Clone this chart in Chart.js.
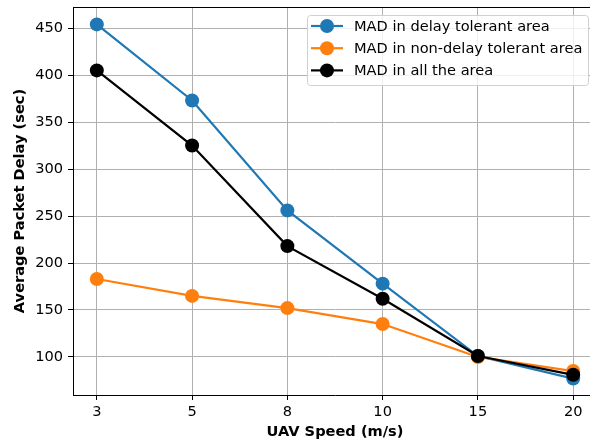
<!DOCTYPE html>
<html>
<head>
<meta charset="utf-8">
<script src="https://cdn.jsdelivr.net/npm/chart.js@4.4.0/dist/chart.umd.min.js"></script>
<style>
  html, body { margin: 0; padding: 0; background: #fff; overflow: hidden; }
  canvas { display: block; }
</style>
</head>
<body>
<!-- wider than the window: the original plot runs past its right edge -->
<canvas id="chart" width="604" height="439"></canvas>
<script>
// values
const speeds = ['3', '5', '8', '10', '15', '20'];
const delayTolerant = [454, 373, 256, 178, 101, 77];
const nonDelayTolerant = [183, 165, 152, 135, 100, 85];
const allArea = [405, 325, 218, 162, 101, 81];
const yTicks = [100, 150, 200, 250, 300, 350, 400, 450];

const FONT = 'DejaVu Sans';
const FS = 14.6;

function pts(arr) {
  return arr.map((v, i) => ({ x: i, y: v }));
}

function series(label, data, color, order) {
  return {
    label: label,
    data: pts(data),
    borderColor: color,
    backgroundColor: color,
    borderWidth: 2.2,
    pointRadius: 7,
    pointHoverRadius: 7,
    pointBorderWidth: 0,
    pointBackgroundColor: color,
    tension: 0,
    order: order
  };
}

// axis titles, top spine and legend drawn by hand
const extras = {
  id: 'extras',
  afterDraw(chart) {
    const ctx = chart.ctx;
    const a = chart.chartArea;
    ctx.save();

    ctx.strokeStyle = '#000';
    ctx.lineWidth = 1;
    ctx.beginPath();
    ctx.moveTo(a.left, a.top + 0.5);
    ctx.lineTo(a.right, a.top + 0.5);
    ctx.stroke();

    ctx.fillStyle = '#000';
    ctx.font = 'bold ' + FS + 'px ' + FONT;
    ctx.textAlign = 'center';
    ctx.textBaseline = 'middle';
    ctx.fillText('UAV Speed (m/s)', (a.left + a.right) / 2, 432);
    ctx.save();
    ctx.translate(20.5, (a.top + a.bottom) / 2);
    ctx.rotate(-Math.PI / 2);
    ctx.fillText('Average Packet Delay (sec)', 0, 0);
    ctx.restore();

    // legend
    const bx = 307, by = 15, bw = 281, bh = 70;
    ctx.fillStyle = 'rgba(255,255,255,0.8)';
    ctx.strokeStyle = '#d0d0d0';
    ctx.lineWidth = 1;
    ctx.beginPath();
    ctx.roundRect(bx + 0.5, by + 0.5, bw, bh, 3);
    ctx.fill();
    ctx.stroke();

    const order = [0, 1, 2];
    ctx.font = FS + 'px ' + FONT;
    ctx.textAlign = 'left';
    ctx.textBaseline = 'middle';
    order.forEach((di, row) => {
      const ds = chart.data.datasets[di];
      const y = 26 + row * 22.2;
      ctx.strokeStyle = ds.borderColor;
      ctx.lineWidth = 2.2;
      ctx.beginPath();
      ctx.moveTo(311, y);
      ctx.lineTo(343, y);
      ctx.stroke();
      ctx.fillStyle = ds.borderColor;
      ctx.beginPath();
      ctx.arc(327, y, 7, 0, Math.PI * 2);
      ctx.fill();
      ctx.fillStyle = '#000';
      ctx.fillText(ds.label, 354, y + 1);
    });

    ctx.restore();
  }
};

new Chart(document.getElementById('chart'), {
  type: 'line',
  data: {
    datasets: [
      series('MAD in delay tolerant area', delayTolerant, '#1f77b4', 3),
      series('MAD in non-delay tolerant area', nonDelayTolerant, '#ff7f0e', 2),
      series('MAD in all the area', allArea, '#000000', 1)
    ]
  },
  options: {
    responsive: false,
    animation: false,
    events: [],
    layout: { padding: { top: 6, right: 3, left: 0, bottom: 0 } },
    plugins: {
      legend: { display: false },
      tooltip: { enabled: false }
    },
    scales: {
      x: {
        type: 'linear',
        min: -0.25,
        max: 5.25,
        afterBuildTicks: (scale) => {
          scale.ticks = speeds.map((s, i) => ({ value: i }));
        },
        afterFit: (scale) => {
          scale.height = 44;
          scale.paddingLeft = 0;
          scale.paddingRight = 0;
        },
        ticks: {
          callback: (v) => speeds[v],
          color: '#000',
          font: { family: FONT, size: FS },
          padding: 3,
          maxRotation: 0,
          autoSkip: false
        },
        grid: { color: '#b0b0b0', lineWidth: 1, tickLength: 5, tickColor: '#000' },
        border: { color: '#000', width: 1 }
      },
      y: {
        min: 59.5,
        max: 472.5,
        afterBuildTicks: (scale) => {
          scale.ticks = yTicks.map(v => ({ value: v }));
        },
        afterFit: (scale) => {
          scale.width = 73;
          scale.paddingTop = 0;
          scale.paddingBottom = 0;
        },
        ticks: {
          color: '#000',
          font: { family: FONT, size: FS },
          padding: 5
        },
        grid: { color: '#b0b0b0', lineWidth: 1, tickLength: 5, tickColor: '#000' },
        border: { color: '#000', width: 1 }
      }
    }
  },
  plugins: [extras]
});
</script>
</body>
</html>
